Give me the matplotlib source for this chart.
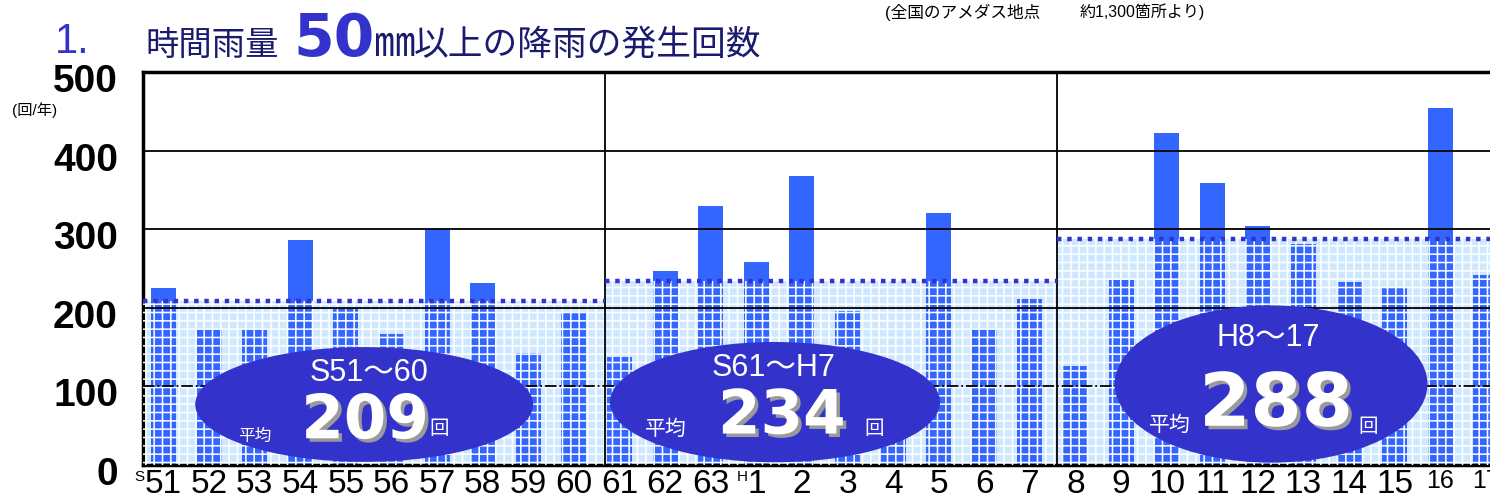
import matplotlib
matplotlib.use("Agg")
import matplotlib.pyplot as plt
import matplotlib.patheffects as pe
import matplotlib.transforms as mtransforms
from matplotlib.patches import Ellipse, Rectangle

plt.rcParams["font.family"] = ["Liberation Sans", "Noto Sans CJK JP", "DejaVu Sans"]
plt.rcParams["hatch.linewidth"] = 1.1

# 年ごとの時間雨量50mm以上の発生回数（回/年）
years = ["S51", "52", "53", "54", "55", "56", "57", "58", "59", "60",
         "61", "62", "63", "H1", "2", "3", "4", "5", "6", "7",
         "8", "9", "10", "11", "12", "13", "14", "15", "16", "17"]
counts = [225, 173, 173, 286, 200, 167, 300, 231, 142, 195,
          138, 247, 330, 258, 368, 196, 98, 321, 173, 211,
          126, 235, 423, 359, 304, 281, 233, 227, 454, 242]
periods = ["S51～60", "S61～H7", "H8～17"]
period_avg = [209, 234, 288]
yticks = [0, 100, 200, 300, 400, 500]

BLUE = "#3366FF"
NAVY = "#3333CC"
PALE = "#CFE8FF"
TITLE = "#1a1a6e"
BIG = ["DejaVu Sans"]

W, H = 1490, 503
fig = plt.figure(figsize=(W / 100, H / 100), dpi=100)
ax = fig.add_axes([143 / W, (H - 465) / H, (W - 143) / W, (465 - 72) / H])

def ftext(x, y, s, **kw):
    fig.text(x / W, 1 - y / H, s, **kw)

x = list(range(len(years)))
edges = [-0.45, 9.68, 19.6, 29.6]

# background band up to each period's average
for k, avg in enumerate(period_avg):
    ax.add_patch(Rectangle((edges[k], 0), edges[k + 1] - edges[k], avg,
                           fc=PALE, ec="none", zorder=1))

ax.bar(x, counts, width=0.55, color=BLUE, zorder=2)

for k, avg in enumerate(period_avg):
    ax.add_patch(Rectangle((edges[k], 0), edges[k + 1] - edges[k], avg,
                           fc="none", ec="white", lw=0, hatch="++", zorder=3))
    ax.hlines(avg, edges[k], edges[k + 1], colors=NAVY, lw=3.2,
              linestyles=(0, (1, 1.3)), zorder=5)

for v in [200, 300, 400]:
    ax.axhline(v, color="black", lw=1.3, zorder=4)
ax.axhline(100, color="black", lw=1.3, ls="-.", zorder=4)
for e in edges[1:3]:
    ax.axvline(e, color="black", lw=1.3, zorder=4)

# period ellipses: (cx, cy, w, h)
ell = [(4.40, 77, 7.41, 146), (13.41, 80, 7.24, 153), (24.29, 103, 6.86, 200)]
txt = [
    dict(p=(4.51, 117), n=(4.42, 55), a=(2.0, 36), k=(6.04, 45), ns=44, asz=12),
    dict(p=(13.37, 123), n=(13.56, 61), a=(11.02, 45), k=(15.58, 45), ns=44, asz=15),
    dict(p=(24.22, 162), n=(24.40, 76), a=(22.07, 51), k=(26.42, 48), ns=53, asz=15),
]
shadow = [pe.SimplePatchShadow(offset=(2.5, -2.5), shadow_rgbFace="#9a9a9a", alpha=1),
          pe.Normal()]
for k, (cx, cy, w, h) in enumerate(ell):
    ax.add_patch(Ellipse((cx, cy), w, h, fc=NAVY, ec="none", zorder=6))
    t = txt[k]
    ax.text(*t["p"], periods[k], color="white", fontsize=22,
            ha="center", va="center", zorder=7)
    ax.text(*t["n"], str(period_avg[k]), color="white", fontsize=t["ns"],
            family=BIG, fontweight="bold", ha="center", va="center", zorder=7,
            path_effects=shadow)
    ax.text(*t["a"], "平均", color="white", fontsize=t["asz"],
            ha="center", va="center", zorder=7)
    ax.text(*t["k"], "回", color="white", fontsize=14,
            ha="center", va="center", zorder=7)

ax.set_xlim(edges[0], 29.09)
ax.set_ylim(0, 500)
ax.set_yticks(yticks)
ax.set_yticklabels([str(v) for v in yticks], fontweight="bold")
ax.tick_params(axis="y", length=0, pad=18, labelsize=28)
shift = mtransforms.ScaledTranslation(0, -6 / 100, fig.dpi_scale_trans)
for lab in ax.get_yticklabels():
    lab.set_transform(lab.get_transform() + shift)

ax.set_xticks(x)
ax.set_xticklabels([y.lstrip("SH") for y in years])
ax.tick_params(axis="x", length=0, pad=3, labelsize=24)
for lab in ax.get_xticklabels()[-2:]:
    lab.set_fontsize(18)
for i, y in enumerate(years):
    if y[0] in "SH":
        off = 0.52 if y[0] == "S" else 0.3
        ax.text(i - off, -0.03, y[0], transform=ax.get_xaxis_transform(),
                fontsize=11, ha="center", va="center")

for side in ["left", "top", "bottom"]:
    ax.spines[side].set_linewidth(2.5)
ax.spines["right"].set_visible(False)

# title
ftext(55, 53, "1.", color=NAVY, fontsize=30, va="baseline")
ftext(145, 55, "時間雨量", color=TITLE, fontsize=24, va="baseline")
ftext(293, 56, "50", color=NAVY, fontsize=42, family=BIG, fontweight="bold",
      va="baseline")
ftext(374, 56, "㎜", color=TITLE, fontsize=30, va="baseline")
ftext(414, 55, "以上の降雨の発生回数", color=TITLE, fontsize=25, va="baseline")
ftext(885, 12, "(全国のアメダス地点", fontsize=12, va="center")
ftext(1080, 12, "約1,300箇所より)", fontsize=11.5, va="center")
ftext(12, 110, "(回/年)", fontsize=11, va="center")

fig.savefig("out.png", dpi=100)
